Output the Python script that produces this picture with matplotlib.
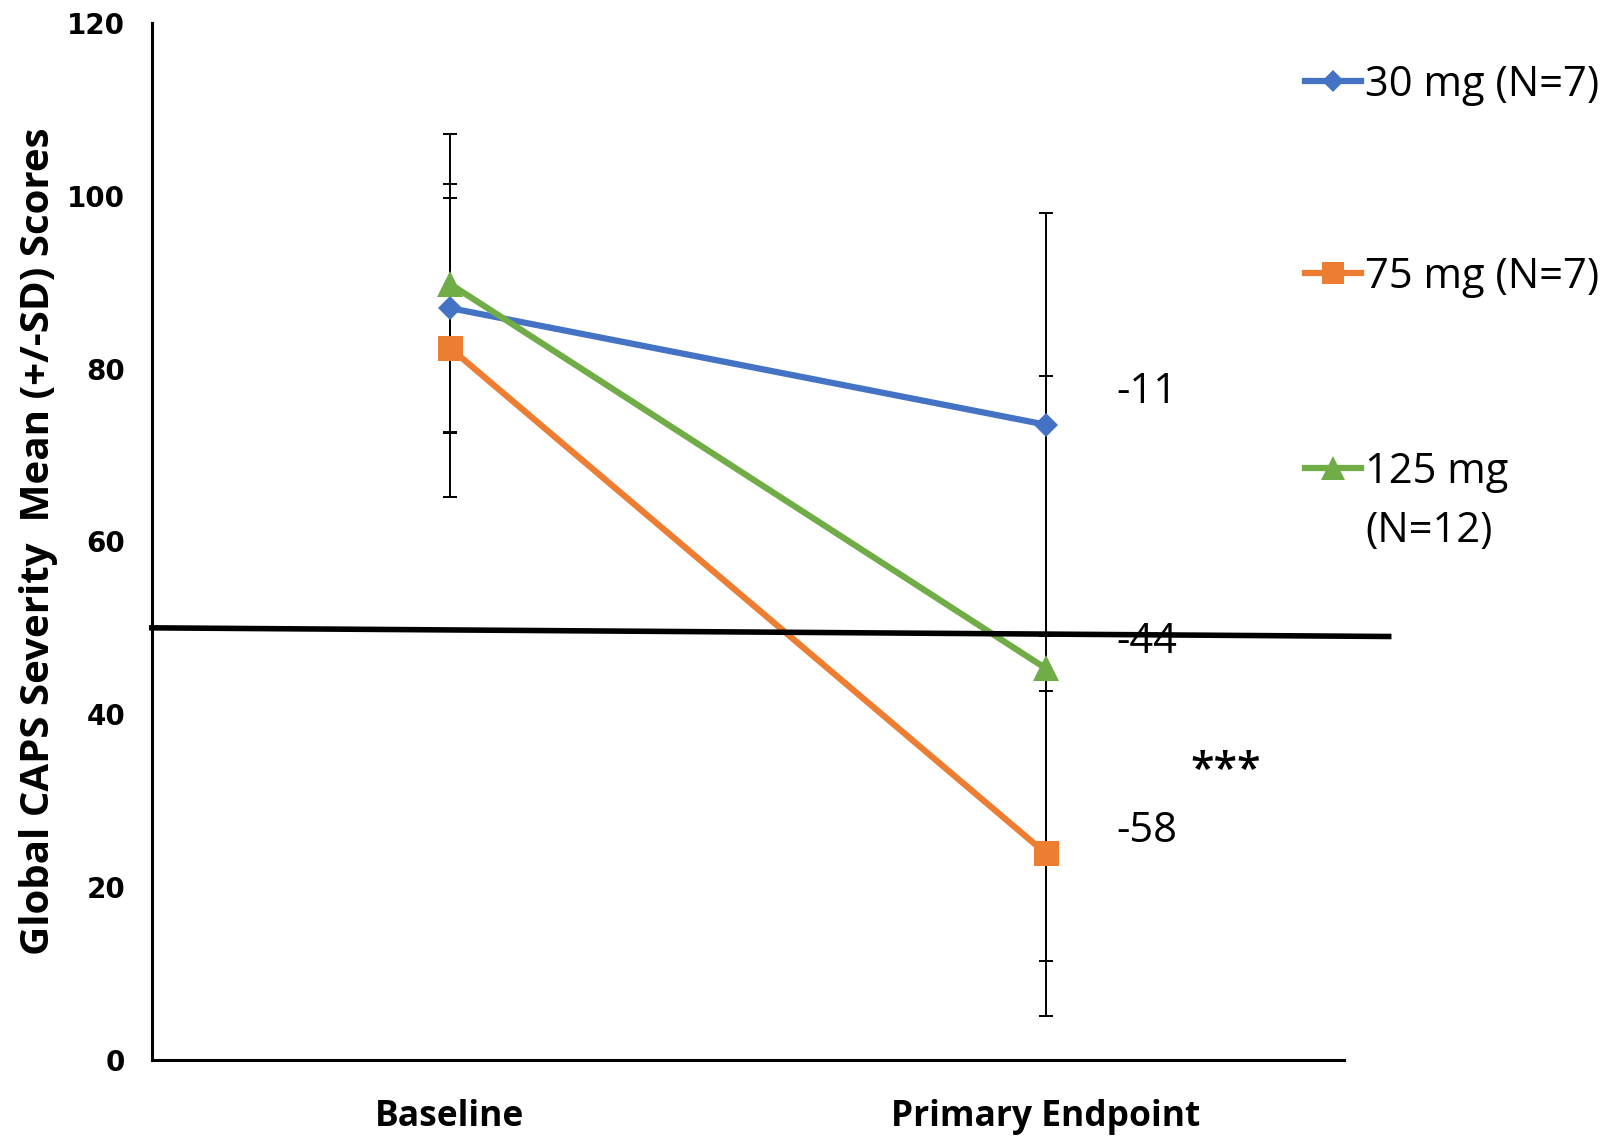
import numpy as np
import matplotlib
matplotlib.use("Agg")
import matplotlib.pyplot as plt

# CAPS severity by dose group, mean and SD at each visit
timepoints = ["Baseline", "Primary Endpoint"]
groups = ["30 mg (N=7)", "75 mg (N=7)", "125 mg"]
mean_30 = [87.0, 73.5]
sd_30 = [14.4, 24.5]
mean_75 = [82.4, 23.9]
sd_75 = [17.3, 18.8]
mean_125 = [89.8, 45.3]
sd_125 = [17.3, 33.8]
change_labels = ["-11", "-44", "-58"]
change_y = [76.0, 47.1, 25.2]
cutoff = [50.0, 49.0]

plt.rcParams['font.family'] = ['Open Sans', 'DejaVu Sans']

fig = plt.figure(figsize=(16.09, 11.38), dpi=100)
ax = fig.add_axes([0.0943, 0.0685, 0.741, 0.9115])

x = np.arange(len(timepoints)) + 0.5
series = [
    (mean_30, sd_30, "#4472C4", "D", 12),
    (mean_75, sd_75, "#ED7D31", "s", 18),
    (mean_125, sd_125, "#70AD47", "^", 19),
]
lines = []
for i, (m, sd, col, mk, ms) in enumerate(series):
    ax.errorbar(x, m, yerr=sd, fmt="none", ecolor="black", elinewidth=1.4,
                capsize=5, capthick=1.4, zorder=2)
    ln, = ax.plot(x, m, color=col, lw=4.5, marker=mk, markersize=ms,
                  markeredgewidth=0, zorder=3 + i)
    lines.append(ln)

# threshold line drawn across the plot
ax.plot([0, 2.075], cutoff, color="black", lw=4, clip_on=False, zorder=10)

for lab, yv in zip(change_labels, change_y):
    ax.text(1.6175, yv, lab, fontsize=30, va="baseline", ha="left")
ax.text(1.802, 32.0, "***", fontsize=31, va="baseline", ha="center",
        fontweight="semibold")

ax.set_xlim(0, 2)
ax.set_ylim(0, 120)
ax.set_yticks(np.arange(0, 121, 20))
ax.set_xticks(x)
ax.set_xticklabels(timepoints, fontsize=25.5, fontweight="bold")
for t in ax.get_yticklabels():
    t.set_family("DejaVu Sans")
    t.set_fontweight("bold")
    t.set_fontsize(20)
ax.tick_params(axis="x", length=0, pad=28)
ax.tick_params(axis="y", length=0, pad=19)
for s in ["top", "right"]:
    ax.spines[s].set_visible(False)
for s in ["left", "bottom"]:
    ax.spines[s].set_linewidth(2.2)

ax.set_ylabel("Global CAPS Severity  Mean (+/-SD) Scores", fontsize=29,
              fontweight="bold")
ax.yaxis.set_label_coords(-0.079, 0.5)

legend_y = [0.9253, 0.7566, 0.5852]
for ln, lab, yy in zip(lines, groups, legend_y):
    fig.legend([ln], [lab], loc="center left", bbox_to_anchor=(1305 / 1609, yy),
               frameon=False, fontsize=30, handlelength=1.35, handletextpad=0.1,
               borderpad=0, borderaxespad=0, markerscale=0.9)
fig.text(1365 / 1609, 1 - 531 / 1138, "(N=12)", fontsize=30, va="center", ha="left")

fig.savefig("out.png", dpi=100)
